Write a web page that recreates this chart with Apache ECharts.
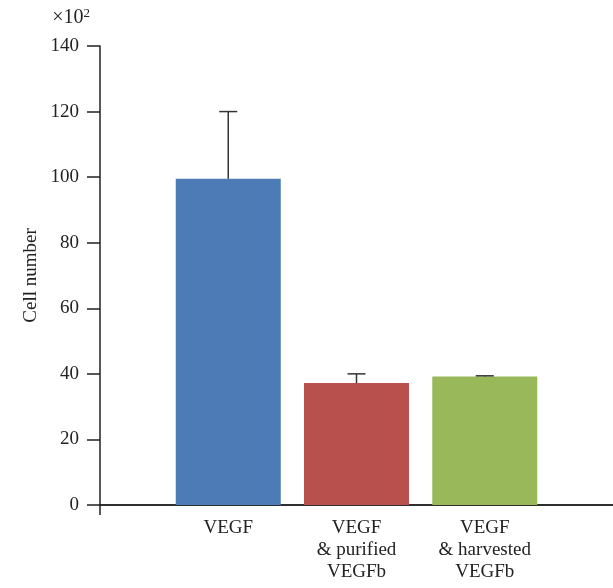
<!DOCTYPE html>
<html>
<head>
<meta charset="utf-8">
<script src="https://cdn.jsdelivr.net/npm/echarts@6/dist/echarts.min.js"></script>
<style>
  html, body { margin: 0; padding: 0; background: #fff; }
  #main { width: 613px; height: 588px; }
</style>
</head>
<body>
<div id="main"></div>
<script>
// groups along the x axis (bar positions 1..3)
const categories = ['VEGF', 'VEGF\n& purified\nVEGFb', 'VEGF\n& harvested\nVEGFb'];
const positions = [1, 2, 3];
const cellNumber = [99.5, 37.2, 39.2];   // ×10^2
const errorTop = [120, 40, 39.4];
const barColors = ['#4d7bb5', '#b8504d', '#99b85a'];
const yTicks = [0, 20, 40, 60, 80, 100, 120, 140];

const font = 'Liberation Serif';
const chart = echarts.init(document.getElementById('main'), null, { renderer: 'canvas' });

const barData = positions.map((p, i) => ({
    value: [p, cellNumber[i]],
    itemStyle: { color: barColors[i] }
}));
const errData = positions.map((p, i) => [p, cellNumber[i], errorTop[i]]);

const option = {
    animation: false,
    backgroundColor: '#fff',
    grid: { left: 100, right: 0, top: 46, bottom: 83 },
    xAxis: [{
        type: 'value',
        min: 0,
        max: 4,
        interval: 1,
        splitLine: { show: false },
        axisLine: { show: true, lineStyle: { color: '#222', width: 1.5 } },
        axisTick: { show: true, customValues: [0], length: 10, inside: false, lineStyle: { color: '#222', width: 1.5 } },
        axisLabel: {
            customValues: positions,
            margin: 12,
            lineHeight: 22,
            fontFamily: font,
            fontSize: 19,
            color: '#222',
            formatter: v => categories[v - 1] || ''
        }
    }, {
        type: 'value',
        position: 'top',
        min: 0,
        max: 4,
        splitLine: { show: false },
        axisLine: { show: true, lineStyle: { color: '#222', width: 1.5 } },
        axisTick: { show: false },
        axisLabel: { show: false }
    }],
    yAxis: [{
        type: 'value',
        min: 0,
        max: 140,
        interval: 20,
        splitLine: { show: false },
        axisLine: { show: true, lineStyle: { color: '#222', width: 1.5 } },
        axisTick: { show: true, length: 13, lineStyle: { color: '#222', width: 1.5 } },
        axisLabel: {
            margin: 21,
            fontFamily: font,
            fontSize: 19,
            color: '#222',
            customValues: yTicks
        },
        name: '{a|×10}{s|2}',
        nameLocation: 'end',
        nameGap: 17,
        nameTextStyle: {
            align: 'right',
            padding: [0, 10, 0, 0],
            rich: {
                a: { fontFamily: font, fontSize: 20, color: '#222' },
                s: { fontFamily: font, fontSize: 13, color: '#222', verticalAlign: 'top', padding: [0, 0, 9, 0] }
            }
        }
    }, {
        type: 'value',
        min: 0,
        max: 140,
        position: 'left',
        axisLine: { show: false },
        axisTick: { show: false },
        axisLabel: { show: false },
        splitLine: { show: false },
        name: 'Cell number',
        nameLocation: 'middle',
        nameGap: 59,
        nameTextStyle: { fontFamily: font, fontSize: 19, color: '#222' }
    }],
    series: [{
        type: 'bar',
        data: barData,
        barWidth: 105,
        z: 2
    }, {
        type: 'custom',
        z: 3,
        data: errData,
        renderItem: function (params, api) {
            const x = api.value(0);
            const low = api.coord([x, api.value(1)]);
            const high = api.coord([x, api.value(2)]);
            const half = 9;
            const style = { stroke: '#333', lineWidth: 1.5 };
            return {
                type: 'group',
                children: [{
                    type: 'line',
                    shape: { x1: low[0], y1: low[1], x2: high[0], y2: high[1] },
                    style: style
                }, {
                    type: 'line',
                    shape: { x1: high[0] - half, y1: high[1], x2: high[0] + half, y2: high[1] },
                    style: style
                }]
            };
        }
    }]
};

chart.setOption(option);
</script>
</body>
</html>
